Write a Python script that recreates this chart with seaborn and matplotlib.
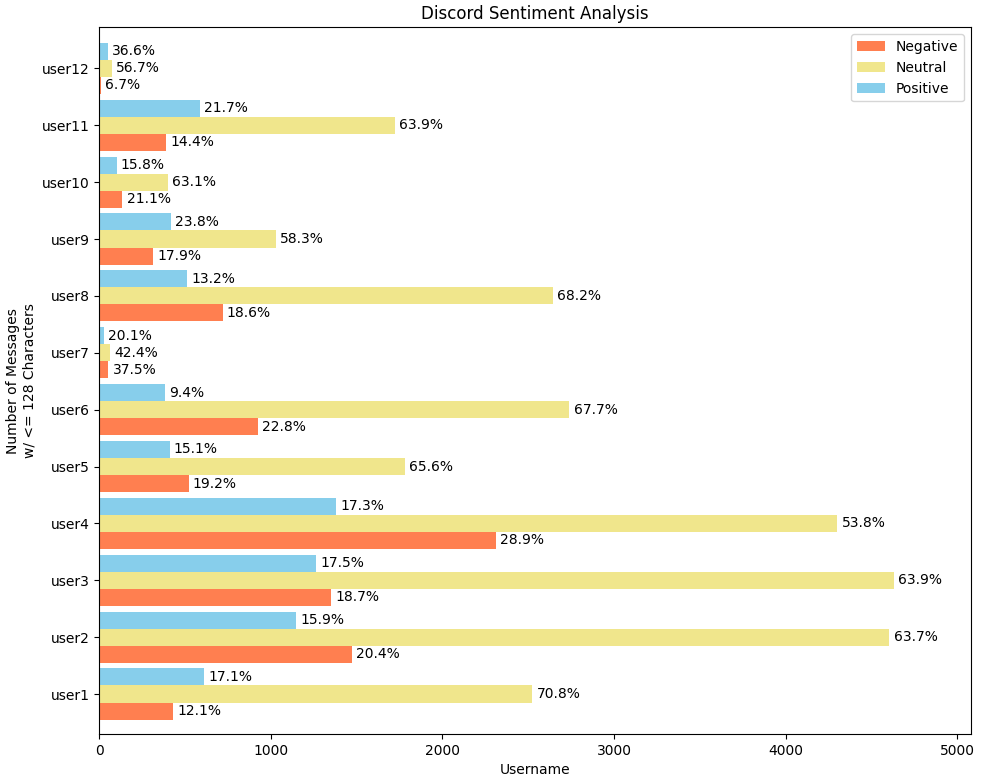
import matplotlib
matplotlib.use("Agg")
import matplotlib.pyplot as plt
import seaborn as sns
import pandas as pd

users = ["user1", "user2", "user3", "user4", "user5", "user6",
         "user7", "user8", "user9", "user10", "user11", "user12"]
negative = [432, 1475, 1353, 2311, 522, 924, 54, 720, 316, 135, 389, 9]
neutral = [2525, 4605, 4630, 4302, 1780, 2740, 61, 2642, 1029, 403, 1724, 76]
positive = [610, 1149, 1266, 1383, 410, 381, 29, 511, 420, 101, 585, 49]

sentiments = ["Negative", "Neutral", "Positive"]
colors = {"Negative": "#FF7F50", "Neutral": "#F0E68C", "Positive": "#87CEEB"}

rows = []
pct = {}
for i, u in enumerate(users):
    total = negative[i] + neutral[i] + positive[i]
    for s, vals in zip(sentiments, [negative, neutral, positive]):
        rows.append({"user": u, "sentiment": s, "count": vals[i]})
        pct[(u, s)] = f"{vals[i] / total * 100:.1f}%"
df = pd.DataFrame(rows)

fig = plt.figure(figsize=(9.82, 7.84), dpi=100)
ax = fig.add_axes([0.101, 0.064, 0.8875, 0.901])

order = users[::-1]
hue_order = ["Positive", "Neutral", "Negative"]
sns.barplot(data=df, x="count", y="user", hue="sentiment", order=order,
            hue_order=hue_order, palette=colors, orient="h", width=0.9,
            saturation=1, errorbar=None, ax=ax, linewidth=0)

for cont, s in zip(ax.containers, hue_order):
    labels = []
    for bar in cont:
        idx = int(round(bar.get_y() + bar.get_height() / 2))
        labels.append(pct[(order[idx], s)])
    ax.bar_label(cont, labels=labels, padding=3, fontsize=10)

ax.set_xlim(0, max(neutral) * 1.097)
ax.set_ylim(len(users) - 1 + 0.70, -0.72)
ax.set_title("Discord Sentiment Analysis", fontsize=12)
ax.set_xlabel("Username", fontsize=10)
ax.set_ylabel("Number of Messages\nw/ <= 128 Characters", fontsize=10)

handles, labs = ax.get_legend_handles_labels()
hmap = dict(zip(labs, handles))
ax.legend([hmap[s] for s in sentiments], sentiments, loc="upper right")

fig.savefig("out.png", dpi=100)
